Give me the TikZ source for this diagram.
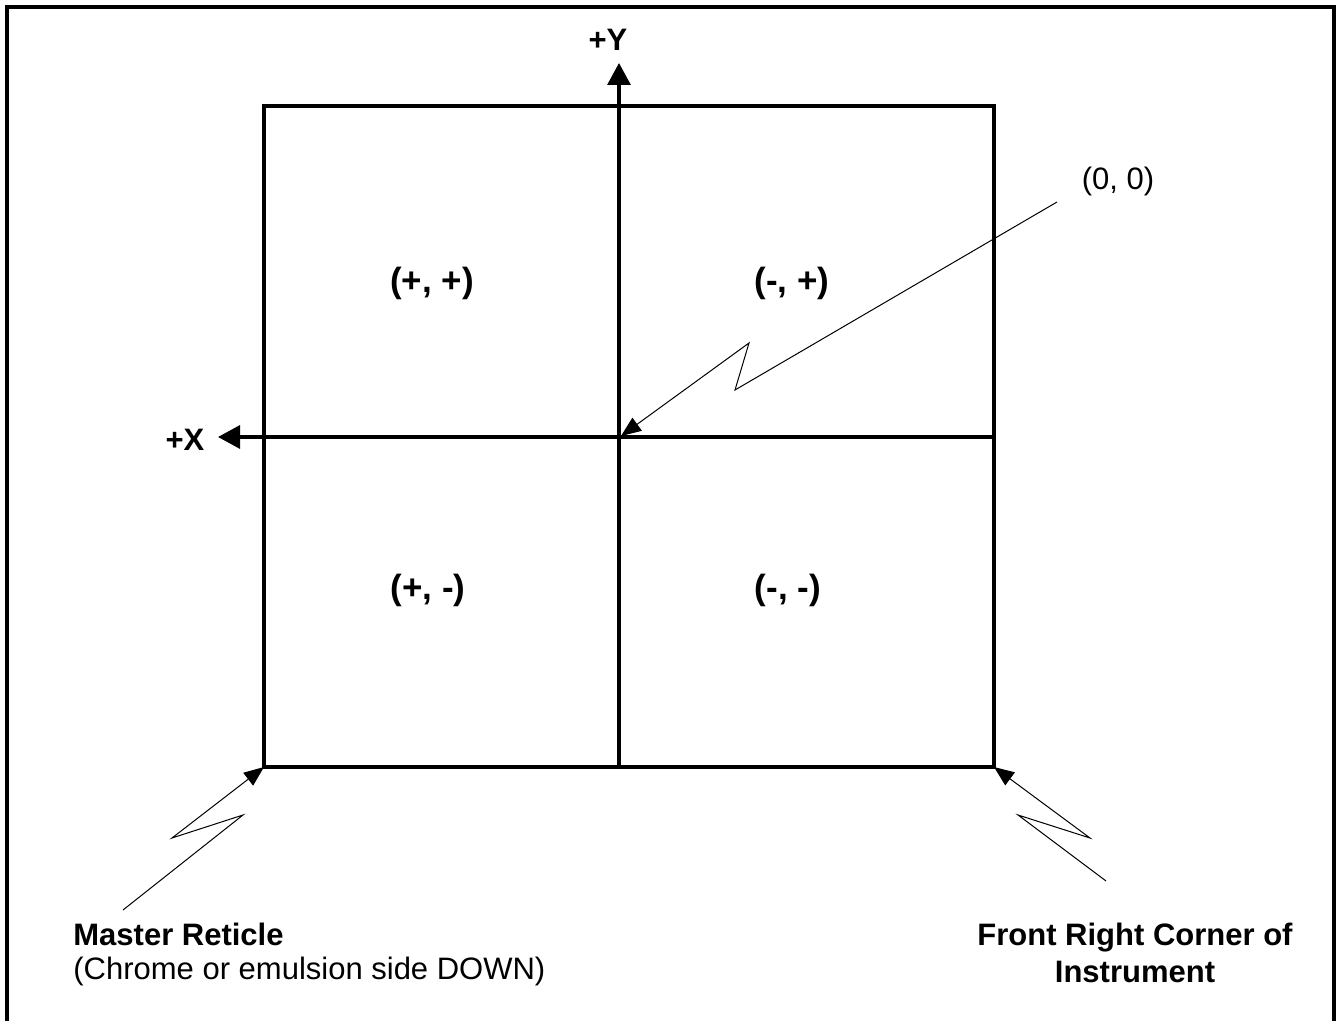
\documentclass[tikz,border=0pt]{standalone}
\usepackage{fontspec}
\setmainfont{Liberation Sans}
\usetikzlibrary{arrows.meta}
\tikzset{
  thick line/.style={line width=1.6pt},
  axis/.style={line width=1.6pt, -{Triangle[length=11pt,width=11.5pt]}},
  leader/.style={line width=0.5pt, line join=miter, -{Triangle[length=10pt,width=8pt]}},
  quad/.style={font=\fontsize{17.5}{20}\selectfont\bfseries, inner sep=0pt},
  lbl/.style={font=\fontsize{15.5}{18}\selectfont, inner sep=0pt},
  blbl/.style={font=\fontsize{15.5}{18}\selectfont\bfseries, inner sep=0pt},
}
\begin{document}
\begin{tikzpicture}[x=0.5pt,y=-0.5pt]
\useasboundingbox (0,0) rectangle (1344,1021);
% outer frame
\draw[thick line] (7,1021) -- (7,7) -- (1334,7) -- (1334,1021);
% main square
\coordinate (TL) at (264,106);
\coordinate (TR) at (994,106);
\coordinate (BL) at (264,767);
\coordinate (BR) at (994,767);
\draw[thick line] (TL) rectangle (BR);
% axes
\coordinate (ybot) at (619,767);
\coordinate (ytip) at (619,63);
\coordinate (xright) at (994,437);
\coordinate (xtip) at (218,437);
\coordinate (origin) at (619,437);
\draw[axis] (ybot) -- (ytip);
\draw[axis] (xright) -- (xtip);
\node[blbl] (ylab) at (608,40) {+Y};
\node[blbl] (xlab) at (185,440) {+X};
% quadrant labels
\node[quad] (pp) at (432,283) {(+, +)};
\node[quad] (mp) at (792,283) {(-, +)};
\node[quad] (pm) at (428,590) {(+, -)};
\node[quad] (mm) at (788,590) {(-, -)};
% (0,0) leader
\node[lbl] (zero) at (1118,181) {(0, 0)};
\coordinate (z0) at (1057,202);
\coordinate (z1) at (735,390);
\coordinate (z2) at (749,343);
\coordinate (z3) at (621,436);
\draw[leader] (z0) -- (z1) -- (z2) -- (z3);
% master reticle leader
\coordinate (m0) at (123,910);
\coordinate (m1) at (243,815);
\coordinate (m2) at (172,838);
\draw[leader] (m0) -- (m1) -- (m2) -- (BL);
\node[blbl, anchor=west] (master) at (73,934) {Master Reticle};
\node[lbl, anchor=west] (chrome) at (73,971) {(Chrome or emulsion side DOWN)};
% front right corner leader
\coordinate (f0) at (1106,881);
\coordinate (f1) at (1018,815);
\coordinate (f2) at (1090,838);
\draw[leader] (f0) -- (f1) -- (f2) -- (BR);
\node[blbl, anchor=base] (front) at (1135,945) {Front Right Corner of};
\node[blbl, anchor=base] (instr) at (1135,982) {Instrument};
\end{tikzpicture}
\end{document}
